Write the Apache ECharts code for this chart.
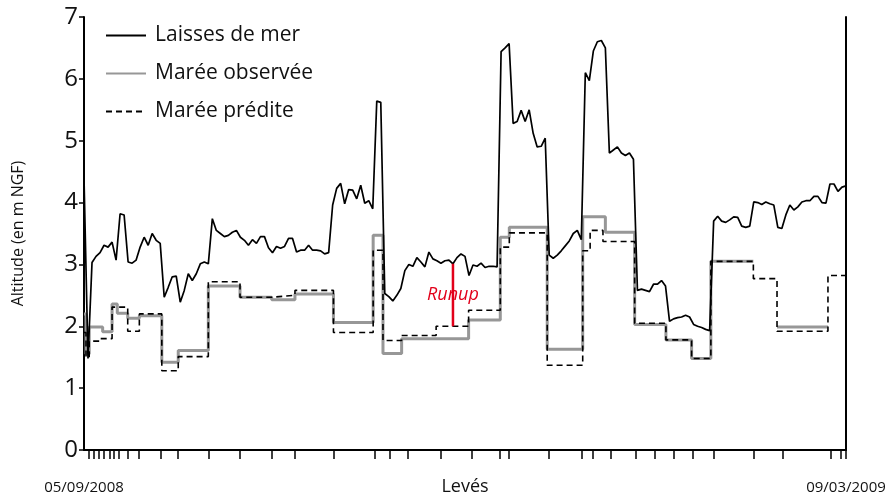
<!DOCTYPE html>
<html>
<head>
<meta charset="utf-8">
<script src="https://cdn.jsdelivr.net/npm/echarts@6/dist/echarts.min.js"></script>
<style>
  html, body { margin: 0; padding: 0; background: #fff; }
  #chart { width: 891px; height: 499px; }
</style>
</head>
<body>
<div id="chart"></div>
<script>
// levés (survey index) 0..190, altitude en m NGF
var laisses = [
  4.4, 1.48, 3.03, 3.13, 3.19, 3.31, 3.28, 3.36, 3.07, 3.82,
  3.8, 3.04, 3.02, 3.07, 3.28, 3.44, 3.31, 3.5, 3.39, 3.34,
  2.47, 2.63, 2.8, 2.81, 2.39, 2.58, 2.85, 2.74, 2.85, 3.01,
  3.04, 3.01, 3.74, 3.55, 3.5, 3.45, 3.47, 3.52, 3.55, 3.44,
  3.39, 3.31, 3.4, 3.34, 3.45, 3.45, 3.27, 3.19, 3.29, 3.26,
  3.29, 3.42, 3.42, 3.2, 3.23, 3.23, 3.31, 3.23, 3.23, 3.22,
  3.17, 3.19, 3.96, 4.23, 4.31, 3.98, 4.21, 4.2, 4.06, 4.28,
  3.99, 4.03, 3.9, 5.64, 5.62, 2.53, 2.48, 2.41, 2.5, 2.61,
  2.9, 3.0, 2.97, 3.11, 3.04, 2.96, 3.2, 3.09, 3.06, 3.02,
  3.06, 3.07, 3.01, 3.11, 3.17, 3.13, 2.82, 2.99, 2.97, 3.02,
  2.95, 2.97, 2.97, 2.96, 6.44, 6.5, 6.57, 5.28, 5.31, 5.49,
  5.31, 5.5, 5.12, 4.9, 4.91, 5.04, 3.15, 3.1, 3.15, 3.22,
  3.3, 3.38, 3.5, 3.55, 3.4, 6.1, 5.97, 6.45, 6.6, 6.62,
  6.5, 4.8, 4.85, 4.9, 4.8, 4.76, 4.8, 4.7, 2.58, 2.6,
  2.58, 2.56, 2.68, 2.68, 2.74, 2.65, 2.08, 2.12, 2.14, 2.15,
  2.18, 2.15, 2.03, 2.0, 1.98, 1.95, 1.93, 3.7, 3.78, 3.7,
  3.68, 3.72, 3.77, 3.76, 3.62, 3.6, 3.62, 4.01, 4.0, 3.97,
  4.01, 3.98, 3.96, 3.6, 3.58, 3.8, 3.96, 3.88, 3.93, 4.01,
  4.03, 4.03, 4.1, 4.1, 4.0, 3.99, 4.3, 4.3, 4.18, 4.25,
  4.27
];

// paliers de marée : [levé de début, altitude]
var mareeObservee = [
  [0, 2.2], [0.5, 1.55], [1.3, 1.99], [4.65, 1.91], [7.0, 2.36], [8.3, 2.21],
  [10.9, 2.13], [13.8, 2.17], [19.4, 1.42], [23.5, 1.61], [31.0, 2.65],
  [38.9, 2.47], [46.8, 2.43], [52.6, 2.52], [62.2, 2.06], [72.1, 3.47],
  [74.55, 1.56], [79.2, 1.8], [95.9, 2.1], [103.8, 3.44], [106.05, 3.6],
  [115.5, 1.63], [124.35, 3.77], [130.0, 3.52], [137.3, 2.03], [145.1, 1.78],
  [151.5, 1.48], [156.3, 3.05], [166.9, 3.05], [166.95, '-'],
  [172.8, 1.99], [185.5, 1.99]
];
var mareePredite = [
  [0, 1.9], [0.5, 1.5], [1.3, 1.76], [4.0, 1.8], [7.0, 2.31], [10.9, 1.92],
  [13.8, 2.2], [19.4, 1.28], [23.5, 1.51], [31.0, 2.72], [38.9, 2.47],
  [46.8, 2.5], [52.6, 2.58], [62.2, 1.9], [72.1, 3.23], [74.55, 1.77],
  [79.2, 1.85], [87.8, 2.0], [95.9, 2.26], [103.8, 3.28], [106.05, 3.51],
  [115.5, 1.37], [124.35, 3.22], [126.2, 3.55], [129.4, 3.37], [137.3, 2.05],
  [145.1, 1.78], [151.5, 1.48], [156.3, 3.05], [166.9, 2.77], [172.8, 1.92],
  [185.5, 2.82], [190, 2.82]
];

var leveTicks = [
  1.3, 2.5, 3.8, 5.0, 6.3, 7.4, 8.6, 10.9, 13.6, 19.1, 23.4, 31.2, 38.8,
  46.9, 52.6, 62.3, 72.4, 76.2, 80.8, 88.9, 96.7, 103.6, 105.9, 116.0,
  124.05, 126.8, 131.3, 137.6, 142.3, 147.1, 151.9, 156.9, 167.1, 174.3,
  186.1, 188.8, 190
];
var dateLabels = ['05/09/2008', '09/03/2009'];

var runupLeve = 92;
var runupHaut = laisses[runupLeve];
var runupBas = 2.0;

var font = '"Open Sans", "Noto Sans", sans-serif';

var chart = echarts.init(document.getElementById('chart'));

var option = {
  animation: false,
  backgroundColor: '#fff',
  grid: { left: 84, right: 45, top: 17, bottom: 49, outerBoundsMode: 'none', containLabel: false },
  legend: {
    data: ['Laisses de mer', 'Marée observée', 'Marée prédite'],
    orient: 'vertical',
    left: 100,
    top: 20,
    itemWidth: 40,
    itemHeight: 14,
    itemGap: 17,
    itemStyle: { opacity: 0 },
    textStyle: {
      fontFamily: font,
      fontSize: 21,
      color: '#111',
      padding: [0, 0, 0, 4]
    }
  },
  xAxis: {
    type: 'value',
    min: 0,
    max: laisses.length - 1,
    name: 'Levés',
    nameLocation: 'middle',
    nameGap: 28,
    nameMoveOverlap: false,
    nameTextStyle: { fontFamily: font, fontSize: 18, color: '#111' },
    splitLine: { show: false },
    axisLine: { show: true, lineStyle: { color: '#000', width: 2 } },
    axisTick: {
      show: true,
      customValues: leveTicks,
      length: 9,
      lineStyle: { color: '#000', width: 1.5 }
    },
    axisLabel: {
      customValues: [0, laisses.length - 1],
      margin: 30,
      fontFamily: font,
      fontSize: 15,
      color: '#111',
      formatter: function (v) {
        return v === 0 ? dateLabels[0] : dateLabels[1];
      }
    }
  },
  yAxis: [
    {
      type: 'value',
      min: 0,
      max: 7,
      interval: 1,
      name: 'Altitude (en m NGF)',
      nameLocation: 'middle',
      nameGap: 58,
      nameMoveOverlap: false,
      nameTextStyle: { fontFamily: font, fontSize: 16, color: '#111' },
      splitLine: { show: false },
      axisLine: { show: true, lineStyle: { color: '#000', width: 2 } },
      axisTick: { show: true, length: 5, lineStyle: { color: '#000', width: 1.5 } },
      axisLabel: { fontFamily: font, fontSize: 24, color: '#111', margin: 6 }
    },
    {
      type: 'value',
      position: 'right',
      min: 0,
      max: 7,
      interval: 1,
      splitLine: { show: false },
      axisLine: { show: true, lineStyle: { color: '#000', width: 2 } },
      axisTick: { show: false },
      axisLabel: { show: false }
    }
  ],
  series: [
    {
      name: 'Marée observée',
      type: 'line',
      step: 'end',
      symbol: 'none',
      data: mareeObservee,
      lineStyle: { color: '#979797', width: 3 },
      itemStyle: { color: '#979797' },
      z: 2
    },
    {
      name: 'Marée prédite',
      type: 'line',
      step: 'end',
      symbol: 'none',
      data: mareePredite,
      lineStyle: { color: '#000', width: 1.6, type: [6, 4] },
      itemStyle: { color: '#000' },
      z: 3
    },
    {
      name: 'Laisses de mer',
      type: 'line',
      symbol: 'none',
      data: laisses.map(function (v, i) { return [i, v]; }),
      lineStyle: { color: '#000', width: 1.7 },
      itemStyle: { color: '#000' },
      z: 4
    },
    {
      name: 'Runup',
      type: 'line',
      symbol: 'none',
      data: [[runupLeve, runupHaut], [runupLeve, runupBas]],
      lineStyle: { color: '#e2001a', width: 2.5 },
      z: 5,
      markPoint: {
        symbol: 'rect',
        symbolSize: [54, 20],
        itemStyle: { color: '#fff' },
        label: {
          show: true,
          position: 'inside',
          formatter: 'Runup',
          fontFamily: font,
          fontStyle: 'italic',
          fontSize: 18,
          color: '#e2001a'
        },
        data: [{ coord: [runupLeve, (runupHaut + runupBas) / 2] }]
      }
    }
  ]
};

chart.setOption(option);
</script>
</body>
</html>
